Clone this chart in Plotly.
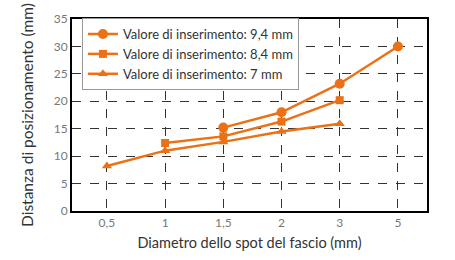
import plotly.graph_objects as go

categories = ["0,5", "1", "1,5", "2", "3", "5"]

x_94 = ["1,5", "2", "3", "5"]
y_94 = [15.2, 18.0, 23.2, 30.0]

x_84 = ["1", "1,5", "2", "3"]
y_84 = [12.4, 13.6, 16.3, 20.2]

x_7 = ["0,5", "1", "1,5", "2", "3"]
y_7 = [8.2, 11.0, 12.6, 14.5, 15.9]

names = ["Valore di inserimento: 9,4 mm", "Valore di inserimento: 8,4 mm", "Valore di inserimento: 7 mm"]
color = "#EC7014"

fig = go.Figure()
for xs, ys, nm, sym, sz in [(x_94, y_94, names[0], "circle", 10),
                            (x_84, y_84, names[1], "square", 8),
                            (x_7, y_7, names[2], "triangle-up", 9)]:
    fig.add_trace(go.Scatter(x=xs, y=ys, name=nm, mode="lines+markers",
                             line=dict(color=color, width=2.5),
                             marker=dict(symbol=sym, size=sz, color=color)))

font_family = "Lato, Open Sans, sans-serif"
fig.update_layout(
    width=455, height=260,
    margin=dict(l=72, r=28, t=11, b=47),
    paper_bgcolor="white", plot_bgcolor="white",
    font=dict(family=font_family, color="#333333"),
    showlegend=True,
    legend=dict(x=0.028, y=1.005, xanchor="left", yanchor="top",
                bgcolor="white", bordercolor="#999999", borderwidth=1,
                font=dict(size=13, color="#333333"),
                tracegroupgap=0, itemwidth=30),
    xaxis=dict(type="category", categoryorder="array", categoryarray=categories,
               range=[-0.6, 5.5], showgrid=True, gridcolor="#333333", griddash="dash",
               gridwidth=1, showline=True, linecolor="black", linewidth=2, mirror=True,
               ticks="", tickfont=dict(size=12, color="#777777"),
               title=dict(text="Diametro dello spot del fascio (mm)", font=dict(size=14.5, color="#333333"), standoff=8),
               zeroline=False),
    yaxis=dict(range=[0, 35], dtick=5, showgrid=True, gridcolor="#333333", griddash="dash",
               gridwidth=1, showline=True, linecolor="black", linewidth=2, mirror=True,
               ticks="", tickfont=dict(size=12, color="#777777"),
               title=dict(text="Distanza di posizionamento (mm)", font=dict(size=15.5, color="#333333"), standoff=16),
               zeroline=False),
)
fig.write_html("out.html")
